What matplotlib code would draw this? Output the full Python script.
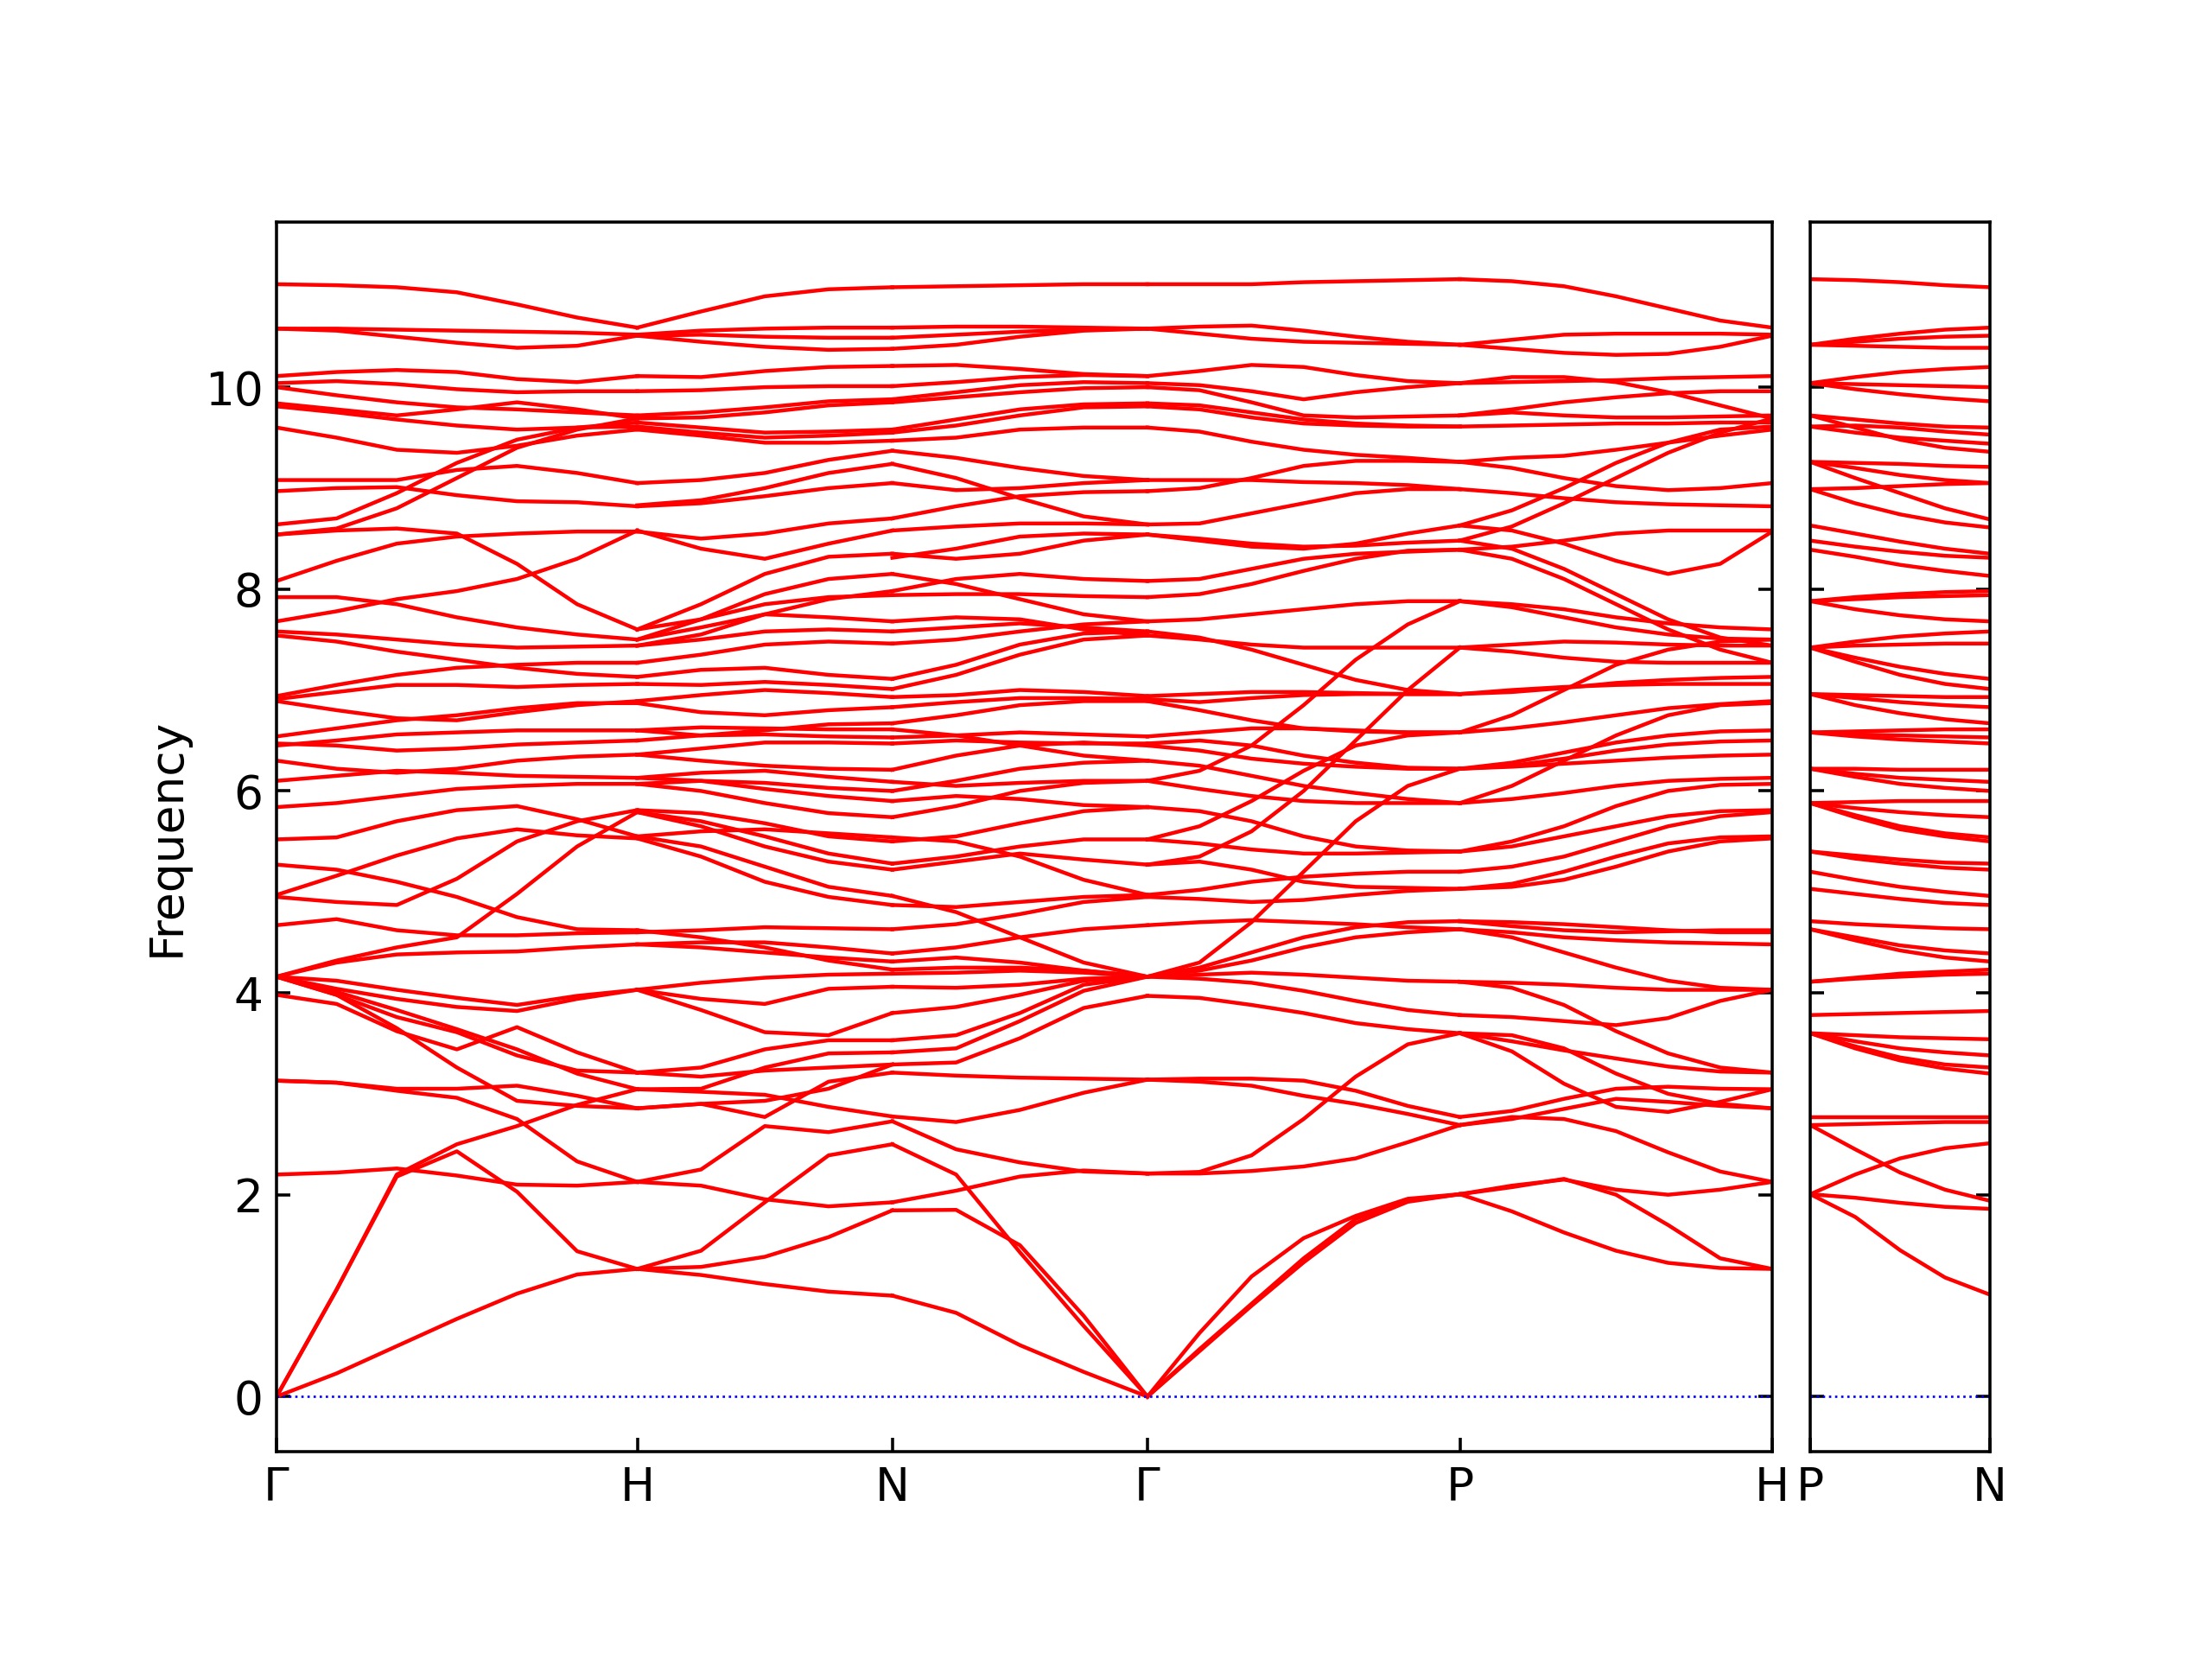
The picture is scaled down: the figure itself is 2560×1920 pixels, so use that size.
import numpy as np
import matplotlib
matplotlib.use("Agg")
import matplotlib.pyplot as plt

# ---------------- data (frequencies) ----------------
MAIN_LABELS = ["Γ", "H", "N", "Γ", "P", "H"]
SIDE_LABELS = ["P", "N"]
MAIN_SEGMENT_LENGTHS = [1.0, 0.7071, 0.7071, 0.8660, 0.8660]
SIDE_SEGMENT_LENGTH = 0.5

# Γ -> H (7 samples per band)
GH_BANDS = [
    [0, 0.23, 0.50, 0.77, 1.02, 1.21, 1.265],
    [0, 1.06, 2.18, 2.43, 2.03, 1.44, 1.265],
    [0, 1.06, 2.20, 2.50, 2.68, 2.89, 3.045],
    [2.20, 2.22, 2.26, 2.19, 2.10, 2.09, 2.127],
    [3.13, 3.11, 3.03, 2.96, 2.75, 2.33, 2.127],
    [3.13, 3.11, 3.05, 3.05, 3.08, 2.98, 2.856],
    [3.98, 3.89, 3.62, 3.44, 3.66, 3.41, 3.21],
    [4.16, 3.98, 3.65, 3.26, 2.93, 2.88, 2.856],
    [4.16, 4.01, 3.83, 3.64, 3.44, 3.20, 3.045],
    [4.16, 3.98, 3.76, 3.61, 3.38, 3.23, 3.21],
    [4.16, 4.04, 3.94, 3.86, 3.82, 3.94, 4.03],
    [4.16, 4.12, 4.03, 3.95, 3.88, 3.97, 4.03],
    [4.16, 4.30, 4.38, 4.40, 4.41, 4.45, 4.48],
    [4.16, 4.32, 4.45, 4.55, 4.98, 5.45, 5.79],
    [4.67, 4.73, 4.62, 4.57, 4.57, 4.59, 4.60],
    [4.95, 4.90, 4.87, 5.13, 5.50, 5.70, 5.81],
    [4.97, 5.16, 5.36, 5.53, 5.62, 5.56, 5.53],
    [5.27, 5.22, 5.10, 4.95, 4.75, 4.63, 4.62],
    [5.52, 5.54, 5.70, 5.81, 5.85, 5.72, 5.55],
    [5.84, 5.88, 5.95, 6.02, 6.05, 6.07, 6.07],
    [6.10, 6.15, 6.20, 6.18, 6.15, 6.14, 6.13],
    [6.30, 6.22, 6.18, 6.22, 6.30, 6.34, 6.36],
    [6.45, 6.50, 6.56, 6.58, 6.60, 6.60, 6.60],
    [6.47, 6.45, 6.40, 6.42, 6.46, 6.48, 6.50],
    [6.54, 6.62, 6.70, 6.75, 6.82, 6.87, 6.87],
    [6.89, 6.80, 6.72, 6.70, 6.78, 6.85, 6.89],
    [6.91, 6.98, 7.05, 7.05, 7.03, 7.05, 7.06],
    [6.94, 7.05, 7.15, 7.22, 7.25, 7.27, 7.27],
    [7.54, 7.48, 7.38, 7.30, 7.22, 7.16, 7.13],
    [7.58, 7.55, 7.50, 7.45, 7.42, 7.43, 7.44],
    [7.92, 7.92, 7.85, 7.72, 7.62, 7.55, 7.50],
    [7.68, 7.78, 7.90, 7.98, 8.10, 8.30, 8.58],
    [8.08, 8.28, 8.45, 8.52, 8.55, 8.57, 8.57],
    [8.54, 8.58, 8.60, 8.55, 8.25, 7.85, 7.60],
    [8.54, 8.60, 8.80, 9.10, 9.40, 9.58, 9.69],
    [8.64, 8.70, 8.95, 9.25, 9.48, 9.60, 9.65],
    [8.97, 9.00, 9.01, 8.93, 8.87, 8.86, 8.82],
    [9.08, 9.08, 9.08, 9.18, 9.22, 9.15, 9.05],
    [9.60, 9.50, 9.38, 9.35, 9.42, 9.52, 9.58],
    [9.81, 9.75, 9.68, 9.62, 9.58, 9.60, 9.61],
    [9.84, 9.78, 9.72, 9.78, 9.85, 9.78, 9.69],
    [10.00, 9.92, 9.85, 9.80, 9.78, 9.75, 9.72],
    [10.04, 10.06, 10.03, 9.98, 9.95, 9.96, 9.96],
    [10.11, 10.15, 10.17, 10.15, 10.08, 10.05, 10.11],
    [10.58, 10.56, 10.50, 10.44, 10.39, 10.41, 10.51],
    [10.58, 10.58, 10.57, 10.56, 10.55, 10.54, 10.52],
    [11.02, 11.01, 10.99, 10.94, 10.82, 10.69, 10.59],
]

# H -> N (5 samples per band)
HN_BANDS = [
    [1.265, 1.205, 1.115, 1.04, 1.00],
    [1.265, 1.445, 1.925, 2.39, 2.50],
    [1.265, 1.285, 1.385, 1.58, 1.845],
    [2.127, 2.09, 1.955, 1.885, 1.925],
    [2.127, 2.25, 2.68, 2.62, 2.727],
    [2.856, 2.90, 2.77, 3.12, 3.21],
    [3.045, 3.02, 2.99, 2.87, 2.775],
    [2.856, 2.90, 2.93, 3.05, 3.29],
    [3.045, 3.05, 3.26, 3.40, 3.41],
    [3.21, 3.26, 3.44, 3.53, 3.53],
    [3.21, 3.17, 3.23, 3.26, 3.29],
    [4.03, 3.83, 3.61, 3.58, 3.80],
    [4.03, 3.94, 3.89, 4.04, 4.06],
    [4.03, 4.10, 4.15, 4.18, 4.19],
    [4.48, 4.50, 4.50, 4.45, 4.39],
    [4.48, 4.45, 4.40, 4.35, 4.31],
    [4.60, 4.62, 4.65, 4.64, 4.63],
    [4.62, 4.55, 4.45, 4.32, 4.23],
    [5.53, 5.35, 5.10, 4.95, 4.87],
    [5.55, 5.45, 5.25, 5.05, 4.96],
    [5.79, 5.65, 5.45, 5.30, 5.22],
    [5.79, 5.70, 5.55, 5.38, 5.28],
    [5.81, 5.78, 5.68, 5.55, 5.50],
    [5.55, 5.60, 5.62, 5.58, 5.54],
    [6.07, 6.00, 5.88, 5.78, 5.74],
    [6.13, 6.10, 6.02, 5.95, 5.90],
    [6.07, 6.10, 6.08, 6.03, 6.00],
    [6.13, 6.18, 6.20, 6.14, 6.09],
    [6.36, 6.30, 6.25, 6.22, 6.21],
    [6.36, 6.42, 6.48, 6.48, 6.47],
    [6.50, 6.55, 6.56, 6.54, 6.53],
    [6.60, 6.63, 6.62, 6.61, 6.61],
    [6.60, 6.55, 6.60, 6.66, 6.67],
    [6.87, 6.78, 6.75, 6.80, 6.83],
    [6.89, 6.95, 7.00, 6.97, 6.93],
    [7.06, 7.05, 7.08, 7.05, 7.01],
    [7.13, 7.20, 7.22, 7.15, 7.11],
    [7.27, 7.35, 7.45, 7.48, 7.46],
    [7.44, 7.50, 7.58, 7.60, 7.58],
    [7.50, 7.62, 7.75, 7.72, 7.68],
    [7.60, 7.70, 7.85, 7.92, 7.94],
    [7.44, 7.55, 7.75, 7.90, 7.98],
    [7.50, 7.70, 7.95, 8.10, 8.15],
    [7.60, 7.85, 8.15, 8.32, 8.35],
    [8.57, 8.50, 8.55, 8.65, 8.70],
    [8.58, 8.40, 8.30, 8.45, 8.58],
    [8.82, 8.85, 8.92, 9.00, 9.05],
    [8.83, 8.88, 9.00, 9.15, 9.24],
    [9.05, 9.08, 9.15, 9.28, 9.37],
    [9.58, 9.52, 9.45, 9.45, 9.47],
    [9.61, 9.55, 9.50, 9.52, 9.55],
    [9.65, 9.60, 9.55, 9.56, 9.58],
    [9.69, 9.70, 9.75, 9.82, 9.85],
    [9.72, 9.75, 9.80, 9.86, 9.88],
    [9.96, 9.97, 10.00, 10.01, 10.01],
    [10.11, 10.10, 10.16, 10.20, 10.21],
    [10.51, 10.45, 10.40, 10.37, 10.38],
    [10.51, 10.52, 10.50, 10.49, 10.49],
    [10.52, 10.56, 10.58, 10.59, 10.59],
    [10.59, 10.75, 10.90, 10.97, 10.99],
]

# N -> Γ (5 samples per band)
NG_BANDS = [
    [1.00, 0.83, 0.51, 0.245, 0],
    [2.50, 2.20, 1.43, 0.70, 0],
    [1.845, 1.85, 1.50, 0.80, 0],
    [1.925, 2.04, 2.18, 2.24, 2.21],
    [2.727, 2.45, 2.32, 2.23, 2.21],
    [2.775, 2.72, 2.84, 3.01, 3.14],
    [3.21, 3.18, 3.16, 3.15, 3.14],
    [3.29, 3.31, 3.55, 3.85, 3.97],
    [3.41, 3.45, 3.72, 4.02, 4.16],
    [3.53, 3.58, 3.80, 4.08, 4.16],
    [3.80, 3.86, 3.98, 4.12, 4.16],
    [4.06, 4.05, 4.08, 4.14, 4.16],
    [4.19, 4.20, 4.22, 4.20, 4.16],
    [4.23, 4.25, 4.25, 4.22, 4.16],
    [4.31, 4.35, 4.30, 4.22, 4.16],
    [4.39, 4.45, 4.55, 4.63, 4.67],
    [4.63, 4.68, 4.78, 4.90, 4.95],
    [4.87, 4.85, 4.90, 4.95, 4.97],
    [4.96, 4.80, 4.55, 4.30, 4.16],
    [5.22, 5.30, 5.38, 5.32, 5.27],
    [5.28, 5.35, 5.45, 5.52, 5.52],
    [5.50, 5.55, 5.68, 5.80, 5.84],
    [5.54, 5.50, 5.35, 5.12, 4.97],
    [5.74, 5.85, 6.00, 6.08, 6.10],
    [5.90, 5.95, 5.92, 5.86, 5.84],
    [6.00, 6.10, 6.22, 6.28, 6.30],
    [6.09, 6.05, 6.08, 6.10, 6.10],
    [6.21, 6.35, 6.45, 6.48, 6.45],
    [6.47, 6.50, 6.48, 6.47, 6.47],
    [6.53, 6.55, 6.58, 6.56, 6.54],
    [6.61, 6.55, 6.45, 6.35, 6.30],
    [6.67, 6.75, 6.85, 6.89, 6.89],
    [6.83, 6.88, 6.92, 6.92, 6.91],
    [6.93, 6.95, 7.00, 6.98, 6.94],
    [7.01, 7.15, 7.35, 7.50, 7.54],
    [7.11, 7.25, 7.45, 7.56, 7.58],
    [7.46, 7.50, 7.58, 7.65, 7.68],
    [7.58, 7.62, 7.66, 7.62, 7.58],
    [7.68, 7.72, 7.70, 7.60, 7.54],
    [7.94, 7.95, 7.95, 7.93, 7.92],
    [7.98, 8.10, 8.15, 8.10, 8.08],
    [8.15, 8.05, 7.90, 7.75, 7.68],
    [8.31, 8.40, 8.52, 8.55, 8.54],
    [8.35, 8.30, 8.35, 8.48, 8.54],
    [8.58, 8.62, 8.65, 8.65, 8.64],
    [8.70, 8.82, 8.92, 8.96, 8.97],
    [9.05, 8.98, 9.00, 9.05, 9.08],
    [9.24, 9.10, 8.90, 8.72, 8.64],
    [9.37, 9.30, 9.20, 9.12, 9.08],
    [9.47, 9.50, 9.58, 9.60, 9.60],
    [9.55, 9.62, 9.72, 9.80, 9.81],
    [9.58, 9.68, 9.78, 9.83, 9.84],
    [9.85, 9.90, 9.95, 9.99, 10.00],
    [9.88, 9.95, 10.02, 10.05, 10.04],
    [10.01, 10.05, 10.10, 10.12, 10.11],
    [10.21, 10.22, 10.18, 10.13, 10.11],
    [10.38, 10.42, 10.50, 10.56, 10.58],
    [10.49, 10.52, 10.55, 10.57, 10.58],
    [10.59, 10.60, 10.60, 10.59, 10.58],
    [10.99, 11.00, 11.01, 11.02, 11.02],
]

# Γ -> P (7 samples per band)
GP_BANDS = [
    [0, 0.63, 1.19, 1.57, 1.79, 1.96, 2.005],
    [0, 0.47, 0.92, 1.37, 1.76, 1.94, 2.005],
    [0, 0.45, 0.90, 1.33, 1.72, 1.93, 2.005],
    [2.21, 2.21, 2.235, 2.28, 2.36, 2.52, 2.69],
    [2.21, 2.226, 2.39, 2.75, 3.17, 3.49, 3.60],
    [3.14, 3.15, 3.15, 3.13, 3.03, 2.88, 2.77],
    [3.14, 3.12, 3.08, 2.98, 2.90, 2.80, 2.69],
    [3.97, 3.95, 3.88, 3.80, 3.70, 3.64, 3.60],
    [4.16, 4.14, 4.10, 4.02, 3.92, 3.83, 3.78],
    [4.16, 4.18, 4.20, 4.18, 4.15, 4.12, 4.11],
    [4.16, 4.22, 4.32, 4.45, 4.55, 4.60, 4.63],
    [4.16, 4.25, 4.40, 4.55, 4.65, 4.70, 4.71],
    [4.16, 4.30, 4.70, 5.20, 5.70, 6.05, 6.22],
    [4.67, 4.70, 4.72, 4.70, 4.68, 4.65, 4.63],
    [4.95, 4.93, 4.90, 4.92, 4.97, 5.01, 5.03],
    [4.97, 5.02, 5.10, 5.15, 5.18, 5.20, 5.20],
    [5.27, 5.30, 5.22, 5.10, 5.05, 5.04, 5.03],
    [5.27, 5.35, 5.60, 6.00, 6.50, 7.00, 7.42],
    [5.52, 5.48, 5.42, 5.38, 5.38, 5.39, 5.40],
    [5.52, 5.65, 5.90, 6.20, 6.45, 6.55, 6.58],
    [5.84, 5.80, 5.70, 5.55, 5.45, 5.41, 5.40],
    [6.10, 6.02, 5.95, 5.90, 5.88, 5.88, 5.88],
    [6.10, 6.20, 6.45, 6.85, 7.30, 7.65, 7.88],
    [6.30, 6.25, 6.15, 6.05, 5.98, 5.92, 5.88],
    [6.45, 6.40, 6.32, 6.27, 6.24, 6.22, 6.22],
    [6.47, 6.50, 6.45, 6.35, 6.28, 6.23, 6.22],
    [6.54, 6.58, 6.62, 6.62, 6.60, 6.58, 6.58],
    [6.89, 6.80, 6.70, 6.62, 6.59, 6.58, 6.58],
    [6.91, 6.88, 6.92, 6.95, 6.96, 6.96, 6.96],
    [6.94, 6.96, 6.98, 6.98, 6.97, 6.96, 6.96],
    [7.54, 7.50, 7.45, 7.42, 7.42, 7.42, 7.42],
    [7.58, 7.52, 7.40, 7.25, 7.10, 7.00, 6.96],
    [7.68, 7.70, 7.75, 7.80, 7.85, 7.88, 7.88],
    [7.92, 7.95, 8.05, 8.18, 8.30, 8.38, 8.39],
    [8.08, 8.10, 8.20, 8.30, 8.35, 8.37, 8.39],
    [8.54, 8.48, 8.42, 8.40, 8.45, 8.55, 8.63],
    [8.54, 8.50, 8.45, 8.42, 8.43, 8.46, 8.48],
    [8.64, 8.65, 8.75, 8.85, 8.95, 8.99, 8.99],
    [8.97, 9.00, 9.10, 9.22, 9.27, 9.27, 9.26],
    [9.08, 9.08, 9.08, 9.06, 9.05, 9.03, 8.99],
    [9.60, 9.56, 9.46, 9.38, 9.33, 9.30, 9.26],
    [9.81, 9.78, 9.70, 9.64, 9.62, 9.61, 9.61],
    [9.84, 9.82, 9.75, 9.68, 9.64, 9.62, 9.61],
    [10.00, 9.97, 9.85, 9.72, 9.70, 9.71, 9.72],
    [10.04, 10.02, 9.96, 9.88, 9.95, 10.00, 10.04],
    [10.11, 10.16, 10.22, 10.20, 10.12, 10.06, 10.04],
    [10.58, 10.60, 10.61, 10.56, 10.50, 10.45, 10.42],
    [10.58, 10.53, 10.48, 10.45, 10.44, 10.43, 10.42],
    [11.02, 11.02, 11.02, 11.04, 11.05, 11.06, 11.07],
]

# P -> H (7 samples per band)
PH_BANDS = [
    [2.005, 1.835, 1.626, 1.445, 1.325, 1.274, 1.265],
    [2.005, 2.075, 2.157, 2.00, 1.70, 1.37, 1.265],
    [2.005, 2.09, 2.15, 2.05, 2.00, 2.05, 2.127],
    [2.69, 2.77, 2.75, 2.63, 2.42, 2.23, 2.127],
    [2.69, 2.75, 2.85, 2.95, 2.92, 2.88, 2.856],
    [2.77, 2.83, 2.95, 3.05, 3.07, 3.05, 3.045],
    [3.60, 3.42, 3.10, 2.87, 2.82, 2.92, 3.045],
    [3.60, 3.52, 3.43, 3.35, 3.27, 3.22, 3.21],
    [3.60, 3.58, 3.45, 3.20, 3.00, 2.90, 2.856],
    [3.78, 3.76, 3.72, 3.68, 3.75, 3.92, 4.03],
    [4.11, 4.05, 3.88, 3.62, 3.40, 3.26, 3.21],
    [4.11, 4.10, 4.08, 4.05, 4.03, 4.03, 4.03],
    [4.63, 4.55, 4.40, 4.25, 4.12, 4.05, 4.03],
    [4.63, 4.60, 4.55, 4.52, 4.50, 4.49, 4.48],
    [4.71, 4.70, 4.68, 4.65, 4.62, 4.60, 4.60],
    [4.71, 4.66, 4.62, 4.60, 4.61, 4.62, 4.62],
    [5.03, 5.05, 5.12, 5.25, 5.40, 5.50, 5.53],
    [5.03, 5.08, 5.20, 5.35, 5.48, 5.54, 5.55],
    [5.20, 5.25, 5.35, 5.50, 5.65, 5.75, 5.79],
    [5.40, 5.45, 5.55, 5.65, 5.75, 5.80, 5.81],
    [5.40, 5.50, 5.65, 5.85, 6.00, 6.06, 6.07],
    [5.88, 5.92, 5.98, 6.05, 6.10, 6.12, 6.13],
    [5.88, 6.05, 6.30, 6.55, 6.75, 6.85, 6.87],
    [6.22, 6.24, 6.27, 6.30, 6.33, 6.35, 6.36],
    [6.22, 6.25, 6.32, 6.40, 6.46, 6.49, 6.50],
    [6.22, 6.28, 6.38, 6.48, 6.55, 6.59, 6.60],
    [6.58, 6.62, 6.68, 6.75, 6.82, 6.86, 6.89],
    [6.58, 6.75, 7.00, 7.25, 7.40, 7.48, 7.50],
    [6.96, 7.00, 7.03, 7.05, 7.06, 7.06, 7.06],
    [6.96, 6.98, 7.02, 7.07, 7.10, 7.12, 7.13],
    [7.42, 7.38, 7.32, 7.28, 7.27, 7.27, 7.27],
    [7.42, 7.45, 7.48, 7.47, 7.45, 7.44, 7.44],
    [7.88, 7.82, 7.72, 7.62, 7.55, 7.51, 7.50],
    [7.88, 7.85, 7.80, 7.72, 7.66, 7.62, 7.60],
    [8.39, 8.30, 8.10, 7.85, 7.60, 7.40, 7.27],
    [8.48, 8.40, 8.20, 7.95, 7.70, 7.52, 7.44],
    [8.39, 8.42, 8.48, 8.55, 8.58, 8.58, 8.58],
    [8.63, 8.58, 8.45, 8.28, 8.15, 8.25, 8.57],
    [8.48, 8.62, 8.85, 9.10, 9.35, 9.55, 9.69],
    [8.63, 8.78, 9.00, 9.25, 9.45, 9.58, 9.61],
    [8.99, 8.95, 8.90, 8.86, 8.84, 8.83, 8.82],
    [9.26, 9.20, 9.10, 9.02, 8.98, 9.00, 9.05],
    [9.26, 9.30, 9.32, 9.38, 9.45, 9.52, 9.58],
    [9.61, 9.62, 9.63, 9.64, 9.64, 9.65, 9.65],
    [9.72, 9.75, 9.72, 9.70, 9.70, 9.71, 9.72],
    [10.04, 10.10, 10.10, 10.05, 9.95, 9.82, 9.69],
    [9.72, 9.78, 9.85, 9.90, 9.94, 9.96, 9.96],
    [10.04, 10.05, 10.06, 10.07, 10.09, 10.10, 10.11],
    [10.42, 10.38, 10.34, 10.32, 10.33, 10.40, 10.51],
    [10.42, 10.47, 10.52, 10.53, 10.53, 10.53, 10.52],
    [11.07, 11.05, 11.00, 10.90, 10.78, 10.66, 10.59],
]

# P -> N, second panel (5 samples per band)
PN_BANDS = [
    [11.07, 11.06, 11.04, 11.01, 10.99],
    [10.42, 10.48, 10.53, 10.57, 10.59],
    [10.42, 10.45, 10.48, 10.50, 10.51],
    [10.42, 10.41, 10.40, 10.39, 10.39],
    [10.04, 10.10, 10.15, 10.18, 10.20],
    [10.04, 10.03, 10.02, 10.01, 10.00],
    [10.04, 9.98, 9.93, 9.89, 9.86],
    [9.72, 9.68, 9.64, 9.61, 9.60],
    [9.61, 9.62, 9.60, 9.56, 9.53],
    [9.61, 9.55, 9.50, 9.47, 9.44],
    [9.72, 9.60, 9.48, 9.40, 9.36],
    [9.26, 9.25, 9.24, 9.22, 9.21],
    [9.26, 9.20, 9.13, 9.08, 9.05],
    [9.26, 9.10, 8.95, 8.80, 8.69],
    [8.99, 9.00, 9.02, 9.04, 9.05],
    [8.99, 8.85, 8.74, 8.66, 8.61],
    [8.63, 8.55, 8.47, 8.40, 8.35],
    [8.48, 8.42, 8.37, 8.33, 8.31],
    [8.39, 8.32, 8.24, 8.18, 8.13],
    [7.88, 7.92, 7.95, 7.97, 7.98],
    [7.88, 7.90, 7.92, 7.93, 7.94],
    [7.88, 7.80, 7.74, 7.70, 7.68],
    [7.42, 7.48, 7.53, 7.56, 7.58],
    [7.42, 7.44, 7.45, 7.46, 7.46],
    [7.42, 7.32, 7.23, 7.16, 7.11],
    [7.42, 7.28, 7.15, 7.06, 7.01],
    [6.96, 6.95, 6.94, 6.93, 6.93],
    [6.96, 6.92, 6.88, 6.85, 6.83],
    [6.96, 6.85, 6.77, 6.71, 6.67],
    [6.58, 6.59, 6.60, 6.61, 6.61],
    [6.58, 6.56, 6.55, 6.54, 6.53],
    [6.58, 6.54, 6.51, 6.49, 6.47],
    [6.22, 6.22, 6.21, 6.21, 6.21],
    [6.22, 6.17, 6.13, 6.11, 6.09],
    [6.22, 6.14, 6.07, 6.03, 6.00],
    [5.88, 5.89, 5.90, 5.90, 5.90],
    [5.88, 5.83, 5.79, 5.76, 5.74],
    [5.88, 5.76, 5.65, 5.58, 5.54],
    [5.88, 5.74, 5.62, 5.55, 5.50],
    [5.40, 5.36, 5.32, 5.29, 5.28],
    [5.40, 5.33, 5.28, 5.24, 5.22],
    [5.20, 5.12, 5.05, 5.00, 4.96],
    [5.03, 4.98, 4.93, 4.89, 4.87],
    [4.71, 4.68, 4.66, 4.64, 4.63],
    [4.63, 4.55, 4.47, 4.42, 4.39],
    [4.63, 4.52, 4.42, 4.35, 4.31],
    [4.11, 4.15, 4.19, 4.21, 4.23],
    [4.11, 4.14, 4.16, 4.18, 4.19],
    [3.78, 3.79, 3.80, 3.81, 3.82],
    [3.60, 3.58, 3.56, 3.55, 3.54],
    [3.60, 3.52, 3.45, 3.41, 3.38],
    [3.60, 3.47, 3.36, 3.29, 3.26],
    [3.60, 3.45, 3.33, 3.25, 3.20],
    [2.77, 2.77, 2.77, 2.77, 2.77],
    [2.69, 2.70, 2.71, 2.72, 2.72],
    [2.69, 2.45, 2.22, 2.05, 1.94],
    [2.005, 2.20, 2.36, 2.46, 2.51],
    [2.005, 1.97, 1.92, 1.88, 1.86],
    [2.005, 1.78, 1.45, 1.18, 1.01],
]

Y_TICKS = [0, 2, 4, 6, 8, 10]

# ---------------- plotting ----------------
plt.rcParams["font.family"] = ["DejaVu Sans"]
plt.rcParams["font.size"] = 12

fig = plt.figure(figsize=(8, 6), dpi=320)
ax1 = fig.add_axes([0.125, 0.125, 0.6762, 0.7411])
ax2 = fig.add_axes([0.8184, 0.125, 0.0812, 0.7411])

nodes = np.concatenate([[0.0], np.cumsum(MAIN_SEGMENT_LENGTHS)])
main_segments = [GH_BANDS, HN_BANDS, NG_BANDS, GP_BANDS, PH_BANDS]

for i, bands in enumerate(main_segments):
    for band in bands:
        xs = np.linspace(nodes[i], nodes[i + 1], len(band))
        ax1.plot(xs, band, color="red", lw=1.0, solid_joinstyle="round")

for band in PN_BANDS:
    xs = np.linspace(0.0, SIDE_SEGMENT_LENGTH, len(band))
    ax2.plot(xs, band, color="red", lw=1.0, solid_joinstyle="round")

ax1.plot([nodes[0], nodes[-1]], [0, 0], "b:", lw=0.6)
ax2.plot([0, SIDE_SEGMENT_LENGTH], [0, 0], "b:", lw=0.6)

ylim = (-0.545, 11.635)
ax1.set_xlim(nodes[0], nodes[-1])
ax1.set_ylim(*ylim)
ax2.set_xlim(0, SIDE_SEGMENT_LENGTH)
ax2.set_ylim(*ylim)

ax1.set_xticks(nodes)
ax1.set_xticklabels(MAIN_LABELS)
ax2.set_xticks([0, SIDE_SEGMENT_LENGTH])
ax2.set_xticklabels(SIDE_LABELS)

for ax in (ax1, ax2):
    ax.set_yticks(Y_TICKS)
    ax.tick_params(axis="both", direction="in", length=3.5, width=0.8)
    ax.tick_params(axis="y", left=True, right=True)
    ax.tick_params(axis="x", bottom=True, top=False)

ax2.set_yticklabels([])
ax1.set_ylabel("Frequency")

fig.savefig("out.png", dpi=320)
